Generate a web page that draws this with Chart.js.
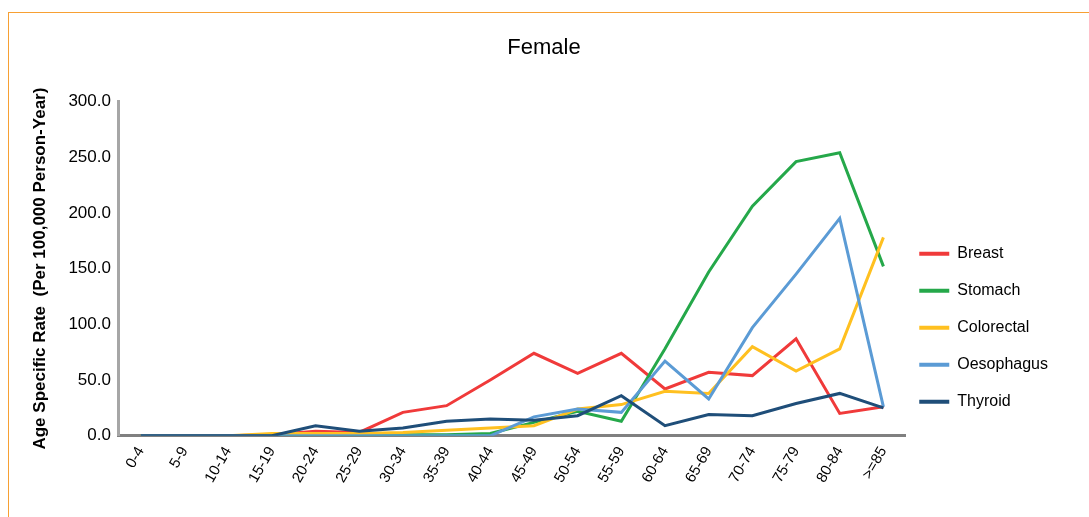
<!DOCTYPE html>
<html>
<head>
<meta charset="utf-8">
<script src="https://cdn.jsdelivr.net/npm/chart.js@4.4.1/dist/chart.umd.min.js"></script>
<style>
  html, body { margin: 0; padding: 0; background: #fff; overflow: hidden; }
  #frame { position: absolute; left: 8px; top: 12px; width: 1100px; height: 600px;
           border-top: 1px solid #f7a033; border-left: 1px solid #f7a033; }
  #wrap { position: absolute; left: 0; top: 0; width: 1089px; height: 517px; }
</style>
</head>
<body>
<div id="frame"></div>
<div id="wrap"><canvas id="chart"></canvas></div>
<script>
const ageGroups = ["0-4", "5-9", "10-14", "15-19", "20-24", "25-29", "30-34", "35-39", "40-44",
  "45-49", "50-54", "55-59", "60-64", "65-69", "70-74", "75-79", "80-84", ">=85"];

const breast     = [0, 0, 0, 1, 4, 3, 21, 27, 50, 74, 56, 74, 42, 57, 54, 87, 20, 26];
const stomach    = [0, 0, 0, 0, 1, 1, 1, 1, 2, 12, 22, 13, 78, 147, 206, 246, 254, 152];
const colorectal = [0, 0, 0, 2, 2, 2, 3, 5, 7, 9, 24, 28, 40, 38, 80, 58, 78, 178];
const oesophagus = [0, 0, 0, 0, 0, 0, 0, 0, 0, 17, 24, 21, 67, 33, 97, 145, 195, 26];
const thyroid    = [0, 0, 0, 0, 9, 4, 7, 13, 15, 14, 18, 36, 9, 19, 18, 29, 38, 25];

const yTicks = [0, 50, 100, 150, 200, 250, 300];

const FONT = "'Liberation Sans', Arial, sans-serif";

function line(label, data, color, order) {
  return {
    label,
    data,
    borderColor: color,
    backgroundColor: color,
    borderWidth: 3,
    pointRadius: 0,
    pointHoverRadius: 0,
    tension: 0,
    order,
  };
}

const datasets = [
  line("Breast", breast, "#f03a3a", 4),
  line("Stomach", stomach, "#25a84a", 3),
  line("Colorectal", colorectal, "#ffc020", 2),
  line("Oesophagus", oesophagus, "#5b9bd5", 1),
  line("Thyroid", thyroid, "#1f4e79", 0),
];

const ctx = document.getElementById("chart");

new Chart(ctx, {
  type: "line",
  data: { labels: ageGroups, datasets },
  options: {
    responsive: true,
    maintainAspectRatio: false,
    animation: false,
    layout: { padding: { left: 30, right: 31, top: 0, bottom: 23 } },
    plugins: {
      title: {
        display: true,
        text: "Female",
        color: "#000",
        font: { family: FONT, size: 22, weight: "normal" },
        padding: { top: 35, bottom: 40 },
      },
      legend: {
        position: "right",
        align: "center",
        title: { display: true, text: "", padding: { top: 154, bottom: 0 } },
        labels: {
          boxWidth: 30,
          boxHeight: 4,
          padding: 14,
          color: "#000",
          font: { family: FONT, size: 16, lineHeight: "23px" },
          sort: (a, b) => a.datasetIndex - b.datasetIndex,
          // text as a one-line array so the row height follows lineHeight
          generateLabels: (chart) => chart.data.datasets.map((ds, i) => ({
            text: [ds.label],
            fillStyle: ds.borderColor,
            strokeStyle: ds.borderColor,
            lineWidth: 0,
            fontColor: "#000",
            hidden: !chart.isDatasetVisible(i),
            datasetIndex: i,
          })),
        },
      },
      tooltip: { enabled: false },
    },
    scales: {
      x: {
        offset: true,
        grid: { display: false, drawTicks: false },
        border: { display: true, color: "#808080", width: 3 },
        ticks: {
          color: "#000",
          font: { family: FONT, size: 15 },
          maxRotation: 60,
          minRotation: 60,
          padding: 8,
          autoSkip: false,
        },
      },
      y: {
        min: 0,
        max: 300,
        grid: { display: false, drawTicks: false },
        border: { display: true, color: "#a6a6a6", width: 3 },
        afterBuildTicks: (axis) => { axis.ticks = yTicks.map(v => ({ value: v })); },
        ticks: {
          color: "#000",
          font: { family: FONT, size: 17 },
          padding: 8,
          callback: (v) => Number(v).toFixed(1),
        },
        title: {
          display: true,
          text: "Age Specific Rate  (Per 100,000 Person-Year)",
          color: "#000",
          font: { family: FONT, size: 17, weight: "bold" },
          padding: { top: 0, bottom: 10 },
        },
      },
    },
  },
});
</script>
</body>
</html>
